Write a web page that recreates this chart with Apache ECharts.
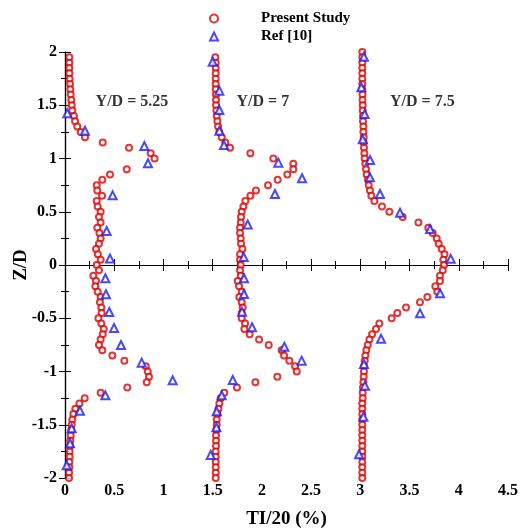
<!DOCTYPE html>
<html>
<head>
<meta charset="utf-8">
<script src="https://cdn.jsdelivr.net/npm/echarts@6/dist/echarts.min.js"></script>
<style>
  html, body { margin: 0; padding: 0; background: #fff; }
  #chart { width: 522px; height: 530px; }
</style>
</head>
<body>
<div id="chart"></div>
<script>
// Spanwise sampling heights Z/D shared by the three computed profiles (top to bottom)
const zLevels = [
  2.00, 1.95, 1.90, 1.85, 1.80, 1.75, 1.70, 1.65, 1.60, 1.55,
  1.50, 1.45, 1.40, 1.35, 1.30, 1.25, 1.20, 1.15, 1.10, 1.05,
  1.00, 0.95, 0.90, 0.85, 0.80, 0.75, 0.70, 0.65, 0.60, 0.55,
  0.50, 0.45, 0.40, 0.35, 0.30, 0.25, 0.20, 0.15, 0.10, 0.05,
  0.00, -0.05, -0.10, -0.15, -0.20, -0.25, -0.30, -0.35, -0.40, -0.45,
  -0.50, -0.55, -0.60, -0.65, -0.70, -0.75, -0.80, -0.85, -0.90, -0.95,
  -1.00, -1.05, -1.10, -1.15, -1.20, -1.25, -1.30, -1.35, -1.40, -1.45,
  -1.50, -1.55, -1.60, -1.65, -1.70, -1.75, -1.80, -1.85, -1.90, -1.95,
  -2.00
];

// Present study, TI/20 (%) plotted with offsets 0, 1.5 and 3 per station
const presentY525 = [
  null, 0.044, 0.044, 0.044, 0.045, 0.047, 0.051, 0.054, 0.058, 0.064,
  0.068, 0.074, 0.091, 0.102, 0.125, 0.159, 0.203, 0.383, 0.650, 0.870,
  0.910, null, 0.627, 0.457, 0.379, 0.322, 0.328, 0.376, 0.322, 0.332,
  0.362, 0.345, 0.362, 0.328, 0.350, 0.362, 0.345, 0.315, 0.334, 0.362,
  0.322, 0.345, 0.288, 0.315, 0.308, 0.332, 0.362, 0.355, 0.369, 0.372,
  0.339, 0.369, 0.393, 0.383, 0.362, 0.345, 0.379, 0.481, 0.603, 0.820,
  0.841, 0.853, 0.830, 0.633, 0.362, 0.200, 0.146, 0.105, 0.085, 0.074,
  0.068, 0.064, 0.058, 0.054, 0.051, 0.047, 0.047, 0.044, 0.044, 0.041,
  0.041
];
const presentY7 = [
  null, 1.527, 1.531, 1.531, 1.531, 1.531, 1.531, 1.531, 1.534, 1.534,
  1.534, 1.538, 1.541, 1.548, 1.555, 1.568, 1.592, 1.629, 1.676, 1.883,
  2.116, 2.319, 2.319, 2.258, 2.160, 2.062, 1.940, 1.883, 1.832, 1.812,
  1.795, 1.788, 1.785, 1.778, 1.778, 1.785, 1.788, 1.802, 1.778, 1.778,
  1.785, 1.778, 1.785, 1.754, 1.768, 1.795, 1.771, 1.795, 1.805, 1.795,
  1.795, 1.829, 1.822, 1.876, 1.971, 2.069, 2.201, 2.225, 2.279, 2.337,
  2.354, 2.157, 1.934, 1.747, 1.618, 1.581, 1.568, 1.558, 1.548, 1.541,
  1.541, 1.538, 1.534, 1.534, 1.534, 1.531, 1.531, 1.531, 1.531, 1.531,
  1.531
];
const presentY75 = [
  3.020, 3.020, 3.020, 3.020, 3.020, 3.020, 3.020, 3.020, 3.022, 3.022,
  3.024, 3.024, 3.027, 3.027, 3.031, 3.031, 3.034, 3.034, 3.037, 3.041,
  3.044, 3.051, 3.058, 3.064, 3.078, 3.085, 3.098, 3.112, 3.143, 3.220,
  3.295, 3.430, 3.590, 3.690, 3.735, 3.776, 3.796, 3.827, 3.855, 3.843,
  3.850, 3.837, 3.809, 3.809, 3.762, 3.782, 3.681, 3.606, 3.464, 3.376,
  3.318, 3.193, 3.159, 3.119, 3.092, 3.075, 3.061, 3.051, 3.044, 3.037,
  3.037, 3.034, 3.031, 3.027, 3.024, 3.024, 3.020, 3.020, 3.020, 3.020,
  3.020, 3.020, 3.020, 3.020, 3.020, 3.020, 3.020, 3.020, 3.020, 3.020,
  3.020
];

// Reference data, Ref [10]
const refX525 = [0.024, 0.203, 0.806, 0.843, 0.484, 0.423, 0.457, 0.410, 0.416, 0.450,
                 0.498, 0.569, 0.779, 1.094, 0.410, 0.152, 0.068, 0.051, 0.017];
const refZ525 = [1.424, 1.261, 1.117, 0.955, 0.654, 0.319, 0.060, -0.125, -0.275, -0.441,
                 -0.592, -0.751, -0.917, -1.083, -1.224, -1.368, -1.534, -1.674, -1.881];
const refX7 = [1.500, 1.568, 1.568, 1.568, 1.615, 2.167, 2.408, 2.133, 1.856, 1.815,
               1.818, 1.818, 1.798, 1.900, 2.228, 2.404, 1.704, 1.592, 1.541, 1.538, 1.480];
const refZ7 = [1.909, 1.637, 1.455, 1.261, 1.127, 0.961, 0.814, 0.666, 0.380, 0.075,
               -0.125, -0.272, -0.438, -0.585, -0.767, -0.898, -1.080, -1.224, -1.374, -1.524, -1.784];
const refX75 = [3.037, 3.010, 3.044, 3.024, 3.098, 3.098, 3.200, 3.403, 3.708, 3.918,
                3.810, 3.606, 3.210, 3.037, 3.047, 3.031, 2.987];
const refZ75 = [1.956, 1.668, 1.418, 1.180, 0.986, 0.823, 0.666, 0.491, 0.338, 0.058,
                -0.266, -0.454, -0.692, -0.930, -1.133, -1.424, -1.778];

// Station labels
const stationText = ['Y/D = 5.25', 'Y/D = 7', 'Y/D = 7.5'];
const stationX = [0.68, 2.01, 3.63];
const stationZ = [1.53, 1.53, 1.53];

const FONT = "'Liberation Serif', 'Times New Roman', serif";

function profilePoints(xs) {
  const out = [];
  xs.forEach((x, i) => { if (x !== null) out.push([x, zLevels[i]]); });
  return out;
}
function pairPoints(xs, zs) {
  return xs.map((x, i) => [x, zs[i]]);
}

const presentData = [].concat(
  profilePoints(presentY525), profilePoints(presentY7), profilePoints(presentY75));
const refData = [].concat(
  pairPoints(refX525, refZ525), pairPoints(refX7, refZ7), pairPoints(refX75, refZ75));
const stationData = stationText.map((t, i) => ({ name: t, value: [stationX[i], stationZ[i]] }));

const axisLineStyle = { lineStyle: { color: '#000', width: 1.2 } };
const tickStyle = { show: true, inside: true, length: 6, lineStyle: { color: '#000', width: 1 } };
const minorStyle = { show: true, inside: true, length: 4, splitNumber: 2, lineStyle: { color: '#000', width: 1 } };
const labelStyle = { fontFamily: FONT, fontWeight: 'bold', fontSize: 16, color: '#000' };

const chart = echarts.init(document.getElementById('chart'), null, { renderer: 'canvas' });
chart.setOption({
  animation: false,
  backgroundColor: '#fff',
  grid: { left: 65, right: 14, top: 52, bottom: 52, containLabel: false, outerBoundsMode: 'none' },
  legend: {
    data: ['Present Study', 'Ref [10]'],
    orient: 'vertical',
    left: 209,
    top: 11,
    padding: 0,
    itemWidth: 8,
    itemHeight: 8,
    itemGap: 3,
    textStyle: { fontFamily: FONT, fontWeight: 'bold', fontSize: 15, color: '#000', padding: [0, 0, 0, 38] }
  },
  xAxis: [
    {
      type: 'value', position: 'bottom', min: 0, max: 4.5, interval: 0.5,
      name: 'TI/20 (%)', nameLocation: 'middle', nameGap: 32, nameMoveOverlap: false,
      nameTextStyle: { fontFamily: FONT, fontWeight: 'bold', fontSize: 19, color: '#000' },
      axisLine: axisLineStyle, axisTick: tickStyle, minorTick: minorStyle,
      splitLine: { show: false },
      axisLabel: Object.assign({ margin: 5 }, labelStyle)
    },
    {
      type: 'value', position: 'top', min: 0, max: 4.5, interval: 0.5,
      axisLine: axisLineStyle, axisTick: tickStyle, minorTick: minorStyle,
      splitLine: { show: false }, axisLabel: { show: false }
    }
  ],
  yAxis: [
    {
      type: 'value', position: 'left', min: -2, max: 2, interval: 0.5,
      name: 'Z/D', nameLocation: 'middle', nameGap: 34, nameMoveOverlap: false,
      nameTextStyle: { fontFamily: FONT, fontWeight: 'bold', fontSize: 19, color: '#000' },
      axisLine: axisLineStyle, axisTick: tickStyle, minorTick: minorStyle,
      splitLine: { show: false },
      axisLabel: Object.assign({ margin: 8 }, labelStyle)
    },
    {
      type: 'value', position: 'right', min: -2, max: 2, interval: 0.5,
      axisLine: axisLineStyle, axisTick: tickStyle, minorTick: minorStyle,
      splitLine: { show: false }, axisLabel: { show: false }
    }
  ],
  series: [
    {
      name: 'Present Study', type: 'scatter', xAxisIndex: 0, yAxisIndex: 0,
      symbol: 'emptyCircle', symbolSize: 6,
      itemStyle: { color: '#e00000', borderColor: '#e00000', borderWidth: 1.5 },
      data: presentData, z: 2
    },
    {
      name: 'Ref [10]', type: 'scatter', xAxisIndex: 0, yAxisIndex: 0,
      symbol: 'emptyTriangle', symbolSize: 8,
      itemStyle: { color: '#1a1aff', borderColor: '#1a1aff', borderWidth: 1.5 },
      data: refData, z: 3
    },
    {
      name: 'stations', type: 'scatter', xAxisIndex: 0, yAxisIndex: 0,
      symbolSize: 0, silent: true,
      label: {
        show: true, position: 'inside', formatter: p => p.name,
        fontFamily: FONT, fontWeight: 'bold', fontSize: 16, color: '#000'
      },
      data: stationData, z: 4
    }
  ]
});
</script>
</body>
</html>
